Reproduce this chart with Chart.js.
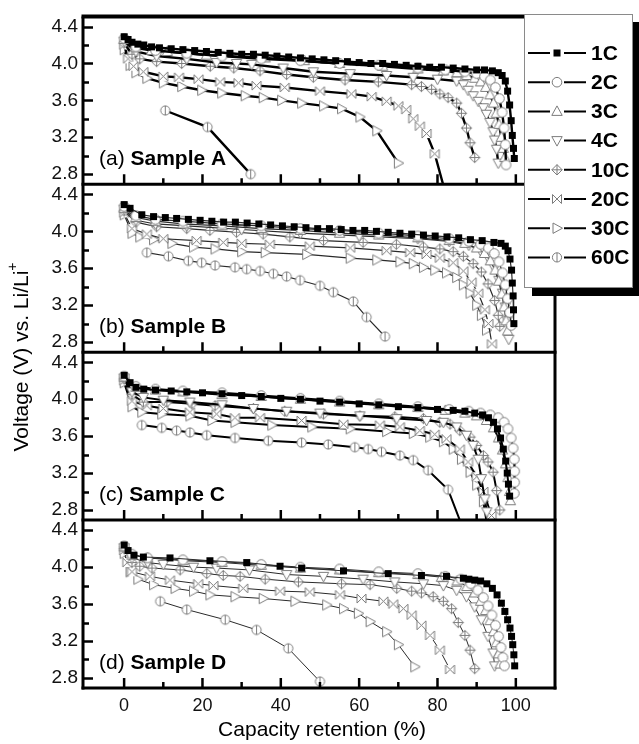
<!DOCTYPE html>
<html>
<head>
<meta charset="utf-8">
<script src="https://cdn.jsdelivr.net/npm/chart.js@4.4.1/dist/chart.umd.min.js"></script>
<style>
  html, body { margin: 0; background: #fff; }
  #wrap { position: relative; width: 639px; height: 744px; }
</style>
</head>
<body>
<div id="wrap"><canvas id="chart"></canvas></div>
<script>
const rates = ['1C', '2C', '3C', '4C', '10C', '20C', '30C', '60C'];
const panelIds = ['A', 'B', 'C', 'D'];
const panelTags = ['(a)', '(b)', '(c)', '(d)'];
const xTicks = [0, 20, 40, 60, 80, 100];
const xMinorTicks = [10, 30, 50, 70, 90];
const yTicks = [2.8, 3.2, 3.6, 4.0, 4.4];
const yMinorTicks = [3.0, 3.4, 3.8, 4.2];

// [capacity retention %, voltage V]
const A_1C = [[0,4.29],[1,4.26],[2,4.23],[3.5,4.21],[5,4.2],[7,4.18],[9,4.17],[12,4.16],[15,4.15],[18,4.14],[21,4.13],[24,4.12],[27,4.11],[30,4.1],[33,4.1],[36,4.09],[39,4.08],[42,4.07],[45,4.06],[48,4.05],[51,4.04],[54,4.03],[57,4.02],[60,4.01],[63,4.0],[66,4.0],[69,3.99],[72,3.98],[75,3.97],[78,3.96],[81,3.96],[84,3.95],[87,3.94],[90,3.93],[92,3.93],[94,3.92],[95.5,3.9],[96.5,3.87],[97.3,3.81],[97.9,3.7],[98.4,3.55],[98.8,3.38],[99.1,3.22],[99.4,3.08],[99.6,2.97]];
const A_2C = [[0,4.27],[3,4.18],[8,4.14],[16,4.11],[25,4.08],[35,4.05],[45,4.03],[55,4.0],[65,3.98],[75,3.95],[82,3.93],[87,3.91],[90,3.89],[92,3.86],[93.5,3.82],[94.8,3.74],[95.8,3.62],[96.5,3.47],[97,3.3],[97.3,3.12],[97.5,2.9]];
const A_3C = [[0,4.26],[3,4.17],[7,4.14],[11,4.13],[21,4.09],[36,4.06],[46,4.03],[55,4.0],[66,3.97],[75,3.94],[81.5,3.92],[85,3.9],[87.5,3.87],[89.5,3.84],[91,3.8],[92.3,3.74],[93.4,3.66],[94.3,3.57],[95,3.46],[95.7,3.34],[96.3,3.2],[96.8,3.08],[97.2,2.98]];
const A_4C = [[0,4.24],[3,4.13],[8.3,4.08],[16,4.05],[23.6,4.01],[28.7,4.0],[32.6,3.99],[40.6,3.95],[48.3,3.91],[57.7,3.89],[67,3.87],[73.8,3.85],[80,3.83],[84.9,3.81],[86.6,3.77],[87.8,3.71],[89.1,3.65],[90.4,3.59],[91.7,3.52],[92.5,3.45],[93.4,3.36],[94.2,3.26],[94.6,3.17],[95.1,3.07],[95.5,2.92]];
const A_10C = [[0,4.22],[2,4.1],[4,4.05],[8.3,4.02],[14.7,4.0],[22,3.97],[28,3.95],[34.7,3.92],[41.5,3.88],[48.3,3.85],[56.4,3.82],[64.9,3.8],[73.4,3.77],[75.9,3.75],[78.5,3.72],[80.6,3.67],[82.7,3.63],[84.9,3.57],[86.1,3.46],[87.4,3.3],[88.3,3.14],[89.5,2.98]];
const A_20C = [[0,4.2],[1,4.05],[2.4,3.97],[4.9,3.91],[10,3.86],[14,3.85],[19,3.83],[24.5,3.8],[29.2,3.79],[33.8,3.76],[41,3.74],[50,3.7],[58,3.67],[63.2,3.64],[67,3.59],[70,3.54],[72,3.5],[73.8,3.4],[75.5,3.32],[77.2,3.24],[79.3,3.02],[82,2.6]];
const A_30C = [[0,4.15],[1.5,3.98],[3,3.9],[5.8,3.84],[10,3.79],[14.7,3.75],[19.8,3.71],[24.9,3.68],[30.9,3.65],[35.5,3.63],[40.2,3.6],[45.3,3.57],[50.9,3.54],[55.5,3.51],[60.2,3.42],[64.5,3.27],[70,2.92]];
const A_60C = [[10.5,3.49],[21.3,3.31],[32.3,2.8]];

const B_1C = [[0,4.29],[1.5,4.25],[4.5,4.18],[7.5,4.16],[10.5,4.15],[13.4,4.14],[16.4,4.13],[19.4,4.12],[22.4,4.11],[25.4,4.1],[28.4,4.1],[31.4,4.09],[34.4,4.08],[37.4,4.07],[40.4,4.06],[43.4,4.05],[46.4,4.04],[49.4,4.03],[52.4,4.03],[55.4,4.02],[58.4,4.01],[61.4,4.01],[64.4,4.0],[67.4,3.99],[70.4,3.98],[73.4,3.97],[76.4,3.96],[79.4,3.95],[82.4,3.94],[85.4,3.93],[88.4,3.91],[91.4,3.9],[94.4,3.88],[96.2,3.87],[97.3,3.84],[98,3.79],[98.5,3.7],[98.9,3.58],[99.1,3.44],[99.3,3.3],[99.4,3.15],[99.5,3.0]];
const B_2C = [[0,4.27],[3,4.17],[8,4.13],[15,4.11],[25,4.08],[35,4.06],[45,4.03],[55,4.01],[65,3.98],[75,3.95],[83,3.92],[88,3.89],[91,3.86],[93,3.82],[94.5,3.76],[95.7,3.67],[96.6,3.55],[97.3,3.42],[97.9,3.27],[98.4,3.12],[98.8,2.98]];
const B_3C = [[0,4.25],[3,4.15],[8,4.11],[15,4.08],[25,4.06],[35,4.03],[45,4.01],[55,3.98],[65,3.96],[75,3.93],[83,3.9],[87,3.87],[90,3.82],[92,3.76],[93.5,3.68],[94.7,3.58],[95.6,3.46],[96.4,3.32],[97,3.18],[97.5,3.03],[97.9,2.92]];
const B_4C = [[0,4.24],[3,4.12],[8,4.08],[16,4.06],[30,4.02],[45,3.98],[60,3.95],[75,3.92],[83,3.89],[88,3.85],[91,3.79],[93,3.71],[94.5,3.6],[95.7,3.47],[96.6,3.33],[97.3,3.18],[97.8,3.03],[98.2,2.83]];
const B_10C = [[0,4.22],[3,4.1],[8.3,4.05],[16,4.03],[21.9,4.01],[28.7,3.99],[35.5,3.97],[42.3,3.94],[50.9,3.9],[61,3.88],[69.5,3.86],[76.4,3.83],[80.6,3.81],[84,3.78],[86.6,3.73],[89.1,3.65],[91.2,3.56],[92.9,3.43],[94.6,3.25],[95.5,3.09],[95.9,2.97]];
const B_20C = [[0,4.2],[2,4.03],[5.8,3.97],[10,3.92],[18.5,3.9],[25.3,3.88],[30,3.87],[37.2,3.86],[47.4,3.84],[57.7,3.82],[67,3.79],[73,3.77],[77.2,3.75],[80.6,3.71],[84,3.66],[86.6,3.57],[88.7,3.45],[90.4,3.33],[92.1,3.15],[93,3.0],[93.9,2.78]];
const B_30C = [[0,4.18],[2,3.98],[4,3.94],[7.5,3.91],[12.2,3.87],[17.7,3.83],[23.2,3.81],[30,3.78],[36,3.77],[46.6,3.75],[57.7,3.71],[64.5,3.69],[70.4,3.67],[73.8,3.65],[76.4,3.61],[79.3,3.58],[82.3,3.55],[84.9,3.5],[86.6,3.42],[88.3,3.33],[90,3.2],[91.2,3.09],[92.5,2.93]];
const B_60C = [[5.8,3.77],[11.3,3.73],[16.4,3.68],[19.8,3.66],[23.2,3.63],[28.3,3.61],[31.3,3.59],[34.7,3.57],[38.1,3.54],[41.5,3.51],[44.9,3.47],[50,3.41],[53.4,3.34],[58.5,3.24],[61.9,3.07],[66.6,2.86]];

const C_1C = [[0,4.26],[1.5,4.18],[3,4.13],[5,4.11],[8,4.1],[12,4.09],[16,4.08],[20,4.07],[25,4.06],[30,4.04],[35,4.03],[40,4.01],[45,4.0],[50,3.98],[55,3.97],[60,3.95],[65,3.94],[70,3.92],[75,3.91],[80,3.89],[84,3.88],[87,3.87],[89.5,3.85],[91.5,3.83],[93,3.8],[94.3,3.75],[95.3,3.68],[96.1,3.58],[96.8,3.46],[97.4,3.33],[97.8,3.2],[98.1,3.08],[98.4,2.95]];
const C_2C = [[0,4.25],[3,4.14],[8,4.11],[15,4.09],[25,4.07],[35,4.04],[45,4.01],[55,3.98],[65,3.95],[75,3.92],[83,3.89],[88,3.87],[91,3.85],[93.5,3.83],[95.5,3.8],[97,3.75],[98,3.68],[98.8,3.58],[99.3,3.47],[99.6,3.35],[99.7,3.22],[99.7,3.1],[99.6,2.98]];
const C_3C = [[0,4.24],[3,4.13],[8,4.1],[15,4.08],[25,4.05],[35,4.03],[45,4.0],[55,3.97],[65,3.94],[75,3.91],[82,3.88],[87,3.85],[90,3.82],[92.5,3.77],[94.3,3.69],[95.6,3.58],[96.6,3.45],[97.4,3.3],[98,3.15],[98.4,3.0],[98.6,2.9]];
const C_4C = [[0,4.23],[2,4.08],[4.9,4.02],[10,3.99],[16.8,3.97],[25,3.94],[33,3.9],[41.5,3.87],[50,3.85],[60.2,3.82],[69.6,3.79],[77.2,3.77],[81.5,3.75],[84.9,3.7],[87.4,3.61],[89.1,3.5],[90.4,3.35],[91.2,3.14],[92.1,2.92],[92.6,2.78]];
const C_10C = [[0,4.22],[2,4.05],[4.9,3.97],[10.9,3.97],[17.3,3.95],[23.2,3.93],[33,3.9],[41,3.87],[50.9,3.84],[60.2,3.82],[69.1,3.81],[76.4,3.79],[80.6,3.75],[83.2,3.73],[85.7,3.66],[88.3,3.59],[90,3.5],[91.7,3.39],[92.9,3.32],[94.2,3.21],[95.1,3.01],[95.9,2.8]];
const C_20C = [[0,4.2],[2,3.98],[5.8,3.93],[10,3.9],[16.8,3.86],[23.6,3.84],[28.3,3.8],[34.7,3.8],[45.3,3.77],[56,3.73],[65.3,3.72],[70.4,3.7],[75.5,3.66],[79.3,3.62],[82.3,3.57],[85.7,3.46],[87.8,3.32],[90,3.16],[91.7,3.0],[93.8,2.74]];
const C_30C = [[0,4.18],[2,3.92],[4.5,3.86],[9.6,3.84],[16.8,3.82],[22.4,3.77],[28.3,3.75],[37.7,3.72],[47.9,3.7],[57.7,3.68],[67,3.65],[73.8,3.63],[78,3.59],[81.5,3.54],[84,3.46],[86.1,3.35],[88.3,3.21],[90,3.07],[91.7,2.89],[92.8,2.6]];
const C_60C = [[4.5,3.72],[9.6,3.69],[13.4,3.66],[16.8,3.64],[21.1,3.61],[28.3,3.58],[36.8,3.55],[45.3,3.53],[52.1,3.51],[58.9,3.48],[62.3,3.46],[65.7,3.43],[70.4,3.39],[73.8,3.34],[77.6,3.23],[82.7,3.02],[86.5,2.6]];

const D_1C = [[0,4.24],[1,4.18],[2.5,4.13],[4.9,4.11],[11.7,4.1],[21.9,4.07],[31.3,4.05],[39.8,4.01],[45.3,3.99],[56,3.96],[67.4,3.93],[75.9,3.91],[82.3,3.9],[86.6,3.88],[88,3.87],[89.5,3.86],[91,3.85],[92.6,3.82],[94,3.77],[95.2,3.7],[96.3,3.61],[97.2,3.52],[97.9,3.43],[98.5,3.34],[98.9,3.25],[99.2,3.16],[99.5,3.05],[99.7,2.93]];
const D_2C = [[0,4.23],[2,4.14],[6,4.1],[15,4.08],[25,4.06],[35,4.03],[45,4.0],[55,3.98],[65,3.95],[75,3.93],[82,3.9],[86,3.87],[88.5,3.82],[90.3,3.75],[91.7,3.67],[92.9,3.58],[93.9,3.48],[94.8,3.37],[95.6,3.25],[96.2,3.13],[96.7,3.02],[97.1,2.93]];
const D_3C = [[0,4.22],[2,4.13],[6,4.1],[15,4.07],[25,4.05],[35,4.02],[45,3.99],[55,3.97],[65,3.94],[75,3.92],[81,3.89],[85,3.85],[87.5,3.79],[89.5,3.72],[91,3.63],[92.3,3.53],[93.4,3.42],[94.3,3.3],[95,3.18],[95.6,3.06],[96,2.95]];
const D_4C = [[0,4.21],[2,4.1],[6,4.05],[10,4.03],[17.7,4.0],[23.6,3.99],[32,3.97],[41.5,3.92],[50.9,3.9],[61,3.87],[69.1,3.84],[76.4,3.82],[81.5,3.8],[84.9,3.75],[87.4,3.68],[89.5,3.57],[91.2,3.43],[92.9,3.25],[94.2,3.07],[94.6,2.93]];
const D_10C = [[0,4.2],[2,4.05],[4,4.01],[7.1,3.99],[14.3,3.97],[21.1,3.93],[25.3,3.91],[29.6,3.9],[36,3.87],[44.5,3.84],[55.5,3.82],[62.8,3.81],[69.6,3.77],[73.4,3.74],[75.9,3.72],[78.9,3.68],[81.5,3.63],[83.6,3.55],[85.3,3.4],[87,3.26],[88.3,3.1],[89.5,2.9]];
const D_20C = [[0,4.18],[0.8,4.05],[2,3.95],[6.6,3.9],[11.7,3.86],[18.9,3.82],[22.8,3.8],[30.4,3.77],[39.8,3.74],[47.4,3.73],[55.1,3.7],[60.6,3.66],[66.2,3.63],[68.7,3.6],[71.3,3.55],[73.4,3.48],[75.9,3.37],[78.1,3.26],[80.6,3.1],[83.2,2.89]];
const D_30C = [[0,4.15],[1.5,3.95],[3.5,3.87],[7.5,3.81],[13,3.77],[17.7,3.74],[21.9,3.7],[28.3,3.68],[35.5,3.66],[43.6,3.63],[51.7,3.59],[56,3.55],[59.8,3.5],[62.8,3.41],[67,3.3],[70,3.16],[74.2,2.92]];
const D_60C = [[9.2,3.63],[16,3.54],[25.8,3.43],[33.8,3.32],[41.9,3.12],[50,2.76]];

const panelSeries = [
  [A_1C, A_2C, A_3C, A_4C, A_10C, A_20C, A_30C, A_60C],
  [B_1C, B_2C, B_3C, B_4C, B_10C, B_20C, B_30C, B_60C],
  [C_1C, C_2C, C_3C, C_4C, C_10C, C_20C, C_30C, C_60C],
  [D_1C, D_2C, D_3C, D_4C, D_10C, D_20C, D_30C, D_60C],
];
const panelLineWidth = [2.4, 1.2, 2, 1];

const FONT = "'Liberation Sans', Arial, Helvetica, sans-serif";
const MARK_GRAY = '#7d7d7d';

// marker shapes, one per rate
function drawMark(ctx, i, cx, cy) {
  ctx.save();
  ctx.translate(cx, cy);
  ctx.lineWidth = 1;
  ctx.strokeStyle = MARK_GRAY;
  ctx.fillStyle = '#fff';
  ctx.beginPath();
  if (i === 0) {
    ctx.fillStyle = '#000';
    ctx.fillRect(-3.5, -3.5, 7, 7);
    ctx.restore();
    return;
  } else if (i === 1) {
    ctx.arc(0, 0, 4.8, 0, Math.PI * 2);
  } else if (i === 2) {
    ctx.moveTo(0, -5.5); ctx.lineTo(5.2, 4); ctx.lineTo(-5.2, 4); ctx.closePath();
  } else if (i === 3) {
    ctx.moveTo(0, 5.5); ctx.lineTo(5.2, -4); ctx.lineTo(-5.2, -4); ctx.closePath();
  } else if (i === 4) {
    ctx.moveTo(0, -5.2); ctx.lineTo(5.2, 0); ctx.lineTo(0, 5.2); ctx.lineTo(-5.2, 0); ctx.closePath();
    ctx.fill(); ctx.stroke();
    ctx.beginPath();
    ctx.moveTo(0, -5.2); ctx.lineTo(0, 5.2); ctx.moveTo(-5.2, 0); ctx.lineTo(5.2, 0);
  } else if (i === 5) {
    ctx.rect(-4.5, -4.5, 9, 9);
    ctx.fillStyle = '#fff';
    ctx.fill();
    ctx.beginPath();
    ctx.moveTo(-4.5, -4.5); ctx.lineTo(4.5, 4.5); ctx.moveTo(4.5, -4.5); ctx.lineTo(-4.5, 4.5);
    ctx.moveTo(-4.5, -4.5); ctx.lineTo(-4.5, 4.5); ctx.moveTo(4.5, -4.5); ctx.lineTo(4.5, 4.5);
    ctx.stroke();
    ctx.restore();
    return;
  } else if (i === 6) {
    ctx.moveTo(5.5, 0); ctx.lineTo(-4, -5.2); ctx.lineTo(-4, 5.2); ctx.closePath();
  } else {
    ctx.arc(0, 0, 4.6, 0, Math.PI * 2);
    ctx.fill(); ctx.stroke();
    ctx.beginPath();
    ctx.moveTo(0, -4.6); ctx.lineTo(0, 4.6);
  }
  ctx.fill();
  ctx.stroke();
  ctx.restore();
}

const markers = rates.map((r, i) => {
  const c = document.createElement('canvas');
  c.width = 15; c.height = 15;
  drawMark(c.getContext('2d'), i, 7.5, 7.5);
  return c;
});

const datasets = [];
panelIds.forEach((p, pi) => {
  panelSeries[pi].forEach((pts, ri) => {
    datasets.push({
      label: p + ' ' + rates[ri],
      data: pts.map(([x, y]) => ({ x, y })),
      yAxisID: 'y' + p,
      borderColor: pi % 2 === 1 ? '#2a2a2a' : '#000',
      borderWidth: panelLineWidth[pi],
      pointStyle: markers[ri],
      pointRadius: 5,
      tension: 0,
      showLine: true,
    });
  });
});

const yScale = (p) => ({
  type: 'linear',
  position: 'left',
  stack: 'panels',
  stackWeight: 1,
  min: 2.69,
  max: 4.51,
  afterBuildTicks: (s) => { s.ticks = yTicks.map(v => ({ value: v })); },
  afterFit: (s) => { s.width = 50; },
  grid: { display: false, drawTicks: false },
  border: { display: false },
  ticks: {
    autoSkip: false,
    padding: 5,
    color: '#111',
    font: { family: FONT, size: 19 },
    callback: (v) => v.toFixed(1),
  },
});

const scales = {
  x: {
    type: 'linear',
    min: -10.5,
    max: 110,
    afterBuildTicks: (s) => { s.ticks = xTicks.map(v => ({ value: v })); },
    afterFit: (s) => { s.height = 56; },
    grid: { display: false, drawTicks: false },
    border: { display: false },
    ticks: { autoSkip: false, padding: 7, color: '#111', font: { family: FONT, size: 18 }, maxRotation: 0 },
  },
};
// stacked axes are laid out bottom-up, so the lowest panel goes first
[...panelIds].reverse().forEach(p => { scales['y' + p] = yScale(p); });

const panelClip = {
  id: 'panelClip',
  beforeDatasetDraw(chart, args) {
    const ys = args.meta.yScale;
    const a = chart.chartArea;
    chart.ctx.save();
    chart.ctx.beginPath();
    chart.ctx.rect(a.left, ys.top, a.right - a.left, ys.bottom - ys.top);
    chart.ctx.clip();
  },
  afterDatasetDraw(chart) {
    chart.ctx.restore();
  },
};

const frame = {
  id: 'frame',
  afterDatasetsDraw(chart) {
    const ctx = chart.ctx;
    const a = chart.chartArea;
    const xs = chart.scales.x;
    ctx.save();
    ctx.strokeStyle = '#000';
    ctx.lineCap = 'butt';
    panelIds.forEach((p, pi) => {
      const ys = chart.scales['y' + p];
      // ticks on the left axis, pointing in
      ctx.lineWidth = 2.5;
      ctx.beginPath();
      yTicks.forEach(v => {
        const y = Math.round(ys.getPixelForValue(v)) + 0.5;
        ctx.moveTo(a.left, y); ctx.lineTo(a.left + 10, y);
      });
      yMinorTicks.forEach(v => {
        const y = Math.round(ys.getPixelForValue(v)) + 0.5;
        ctx.moveTo(a.left, y); ctx.lineTo(a.left + 6, y);
      });
      // ticks on the panel bottom, pointing up
      xTicks.forEach(v => {
        const x = xs.getPixelForValue(v);
        ctx.moveTo(x, ys.bottom); ctx.lineTo(x, ys.bottom - 10);
      });
      xMinorTicks.forEach(v => {
        const x = xs.getPixelForValue(v);
        ctx.moveTo(x, ys.bottom); ctx.lineTo(x, ys.bottom - 6);
      });
      ctx.stroke();
      // panel separator / bottom line
      ctx.lineWidth = 3;
      ctx.beginPath();
      ctx.moveTo(a.left - 1.5, ys.bottom); ctx.lineTo(a.right + 1.5, ys.bottom);
      ctx.stroke();
      // panel label
      const by = ys.bottom - 19;
      ctx.fillStyle = '#000';
      ctx.textBaseline = 'alphabetic';
      ctx.textAlign = 'left';
      ctx.font = '21px ' + FONT;
      ctx.fillText(panelTags[pi], 99, by);
      const w = ctx.measureText(panelTags[pi] + ' ').width;
      ctx.font = 'bold 21px ' + FONT;
      ctx.fillText('Sample ' + p, 99 + w, by);
    });
    ctx.lineWidth = 3;
    ctx.beginPath();
    ctx.moveTo(a.left, a.top); ctx.lineTo(a.left, a.bottom + 1.5);
    ctx.moveTo(a.right, a.top); ctx.lineTo(a.right, a.bottom + 1.5);
    ctx.stroke();
    ctx.lineWidth = 4;
    ctx.beginPath();
    ctx.moveTo(a.left - 1.5, a.top); ctx.lineTo(a.right + 1.5, a.top);
    ctx.stroke();

    // axis titles
    ctx.fillStyle = '#000';
    ctx.font = '21px ' + FONT;
    ctx.textAlign = 'center';
    ctx.textBaseline = 'middle';
    ctx.fillText('Capacity retention (%)', (a.left + a.right) / 2 + 3, 730);
    ctx.save();
    ctx.translate(22, 357);
    ctx.rotate(-Math.PI / 2);
    const main = 'Voltage (V) vs. Li/Li';
    const mw = ctx.measureText(main).width;
    ctx.font = '14px ' + FONT;
    const pw = ctx.measureText('+').width;
    ctx.font = '21px ' + FONT;
    ctx.textAlign = 'left';
    const x0 = -(mw + pw) / 2;
    ctx.fillText(main, x0, 0);
    ctx.font = '14px ' + FONT;
    ctx.fillText('+', x0 + mw, -9);
    ctx.restore();

    // legend box with drop shadow
    const lx = 524, ly = 14, lw = 109, lh = 274;
    ctx.fillStyle = '#000';
    ctx.fillRect(lx + 8, ly + 8, lw, lh);
    ctx.fillStyle = '#fff';
    ctx.fillRect(lx, ly, lw, lh);
    ctx.strokeStyle = '#8a8a8a';
    ctx.lineWidth = 1;
    ctx.strokeRect(lx + 0.5, ly + 0.5, lw - 1, lh - 1);
    rates.forEach((r, i) => {
      const y = 53 + i * 29.2;
      ctx.strokeStyle = '#000';
      ctx.lineWidth = 2;
      ctx.beginPath();
      ctx.moveTo(528, y); ctx.lineTo(550, y);
      ctx.moveTo(564, y); ctx.lineTo(586, y);
      ctx.stroke();
      drawMark(ctx, i, 557, y);
      ctx.fillStyle = '#000';
      ctx.font = 'bold 21px ' + FONT;
      ctx.textAlign = 'left';
      ctx.textBaseline = 'middle';
      ctx.fillText(r, 591, y + 1);
    });
    ctx.restore();
  },
};

new Chart(document.getElementById('chart'), {
  type: 'line',
  data: { datasets },
  options: {
    responsive: true,
    maintainAspectRatio: false,
    animation: false,
    layout: { padding: { left: 33, right: 84, top: 14, bottom: 0 } },
    plugins: {
      legend: { display: false },
      tooltip: { enabled: false },
    },
    scales,
  },
  plugins: [panelClip, frame],
});
</script>
</body>
</html>
